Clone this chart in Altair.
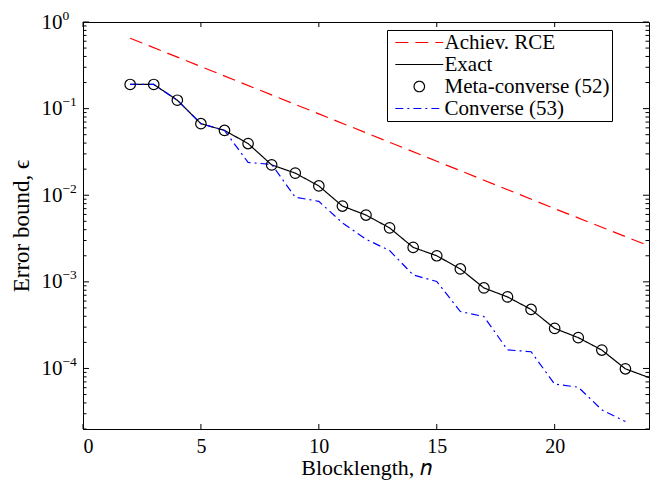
import altair as alt
import pandas as pd

# ---- data ----
series_names = ["Achiev. RCE", "Exact", "Meta-converse (52)", "Converse (53)"]

n_rce = [2, 5, 10, 15, 20, 24]
eps_rce = [0.65, 0.306, 0.087, 0.0247, 0.0070, 0.0026]

n_exact = list(range(2, 25))
eps_exact = [0.19, 0.19, 0.125, 0.067, 0.056, 0.0395, 0.0224, 0.018, 0.0128,
             0.0075, 0.0059, 0.0042, 0.0025, 0.0020, 0.00141, 0.00085, 0.00067,
             0.00048, 0.00029, 0.000227, 0.000163, 0.000099, 0.0000785]

n_meta = list(range(2, 24))
eps_meta = [0.19, 0.19, 0.125, 0.067, 0.056, 0.0395, 0.0224, 0.018, 0.0128,
            0.0075, 0.0059, 0.0042, 0.0025, 0.0020, 0.00141, 0.00085, 0.00067,
            0.00048, 0.00029, 0.000227, 0.000163, 0.000099]

n_conv = list(range(2, 24))
eps_conv = [0.19, 0.19, 0.125, 0.067, 0.056, 0.0239, 0.0227, 0.0095, 0.0085,
            0.0048, 0.0031, 0.0023, 0.0012, 0.00101, 0.000454, 0.000398,
            0.000164, 0.000156, 0.0000659, 0.0000608, 0.0000333, 0.0000244]

x_ticks = [0, 5, 10, 15, 20]
y_ticks = [1, 0.1, 0.01, 0.001, 0.0001]
y_exponents = ["0", "\u22121", "\u22122", "\u22123", "\u22124"]
y_minor = [k * 10.0 ** e for e in range(-5, 0) for k in range(2, 10) if k * 10.0 ** e >= 2e-5]

W, H = 566, 407
FONT = "Liberation Serif"
MARK_SIZE = 110

lines_df = pd.concat([
    pd.DataFrame({"n": n_rce, "eps": eps_rce, "series": series_names[0]}),
    pd.DataFrame({"n": n_exact, "eps": eps_exact, "series": series_names[1]}),
    pd.DataFrame({"n": n_conv, "eps": eps_conv, "series": series_names[3]}),
], ignore_index=True)
meta_df = pd.DataFrame({"n": n_meta, "eps": eps_meta, "series": series_names[2]})

xscale = alt.Scale(domain=[0, 24], nice=False, zero=False)
yscale = alt.Scale(type="log", domain=[2e-5, 1], nice=False)

# horizontal line symbol (about 48 px long at MARK_SIZE)
LINE_SYM = "M-4.57,0H4.57"
color_scale = alt.Scale(domain=series_names, range=["#ff0000", "#000000", "#000000", "#0000ff"])
dash_scale = alt.Scale(domain=series_names, range=[[13, 7], [1, 0], [1, 0], [8, 4, 2, 4]])
shape_scale = alt.Scale(domain=series_names, range=[LINE_SYM, LINE_SYM, "circle", LINE_SYM])
size_scale = alt.Scale(type="ordinal", domain=series_names,
                       range=[MARK_SIZE, MARK_SIZE, MARK_SIZE, MARK_SIZE])

legend = alt.Legend(
    title=None, orient="none", legendX=304, legendY=8,
    strokeColor="black", fillColor="white", padding=2,
    labelFont=FONT, labelFontSize=21, labelColor="black",
    labelOffset=14.7, rowPadding=0, symbolOffset=19.8,
    symbolSize=MARK_SIZE, symbolStrokeWidth=1.2, labelLimit=400,
)

xaxis = alt.Axis(values=x_ticks, title="Blocklength, 𝑛", ticks=False, grid=False,
                 labelPadding=7, titlePadding=1, titleFontSize=22, labelFontSize=20)
yaxis = alt.Axis(values=y_ticks, title="Error bound, ϵ", ticks=False, grid=False,
                 labelPadding=21, titlePadding=8, labelExpr="'10'")

lines = alt.Chart(lines_df).mark_line(strokeWidth=1.2, clip=True).encode(
    x=alt.X("n:Q", scale=xscale, axis=xaxis),
    y=alt.Y("eps:Q", scale=yscale, axis=yaxis),
    color=alt.Color("series:N", scale=color_scale, legend=legend),
    strokeDash=alt.StrokeDash("series:N", scale=dash_scale, legend=legend),
    order=alt.Order("n:Q"),
)

points = alt.Chart(meta_df).mark_point(filled=False, strokeWidth=1.2, opacity=1).encode(
    x=alt.X("n:Q", scale=xscale),
    y=alt.Y("eps:Q", scale=yscale),
    color=alt.Color("series:N", scale=color_scale, legend=legend),
    shape=alt.Shape("series:N", scale=shape_scale, legend=legend),
    size=alt.Size("series:N", scale=size_scale, legend=legend),
)

ymaj_df = pd.DataFrame({"v": y_ticks, "exp": y_exponents})
ymin_df = pd.DataFrame({"v": y_minor})
xt_df = pd.DataFrame({"v": x_ticks})

def yt(df, x0, x1):
    return alt.Chart(df).mark_rule(color="black", strokeWidth=1).encode(
        y=alt.Y("v:Q", scale=yscale), x=alt.value(x0), x2=alt.value(x1))

def xt(df, y0, y1):
    return alt.Chart(df).mark_rule(color="black", strokeWidth=1).encode(
        x=alt.X("v:Q", scale=xscale), y=alt.value(y0), y2=alt.value(y1))

exps = alt.Chart(ymaj_df).mark_text(align="left", baseline="middle", font=FONT,
                                    fontSize=13.5, color="black", dy=-6.5).encode(
    y=alt.Y("v:Q", scale=yscale), x=alt.value(-20.5), text="exp:N")

ticks = [
    yt(ymaj_df, 0, 6), yt(ymaj_df, W - 6, W),
    yt(ymin_df, 0, 3.5), yt(ymin_df, W - 3.5, W),
    xt(xt_df, H - 5, H), xt(xt_df, 0, 5),
]

chart = alt.layer(*ticks, lines, points, exps).properties(
    width=W, height=H,
    background="white",
    autosize=alt.AutoSizeParams(type="none"),
    padding={"left": 75, "top": 14, "right": 3, "bottom": 51},
).configure_view(stroke="black", strokeWidth=1).configure_axis(
    domainColor="black", domainWidth=1,
    labelFont=FONT, labelFontSize=21, labelColor="black",
    titleFont=FONT, titleFontSize=23, titleFontWeight="normal", titleColor="black",
)

chart.save("out.html", embed_options={"renderer": "svg", "actions": False})
